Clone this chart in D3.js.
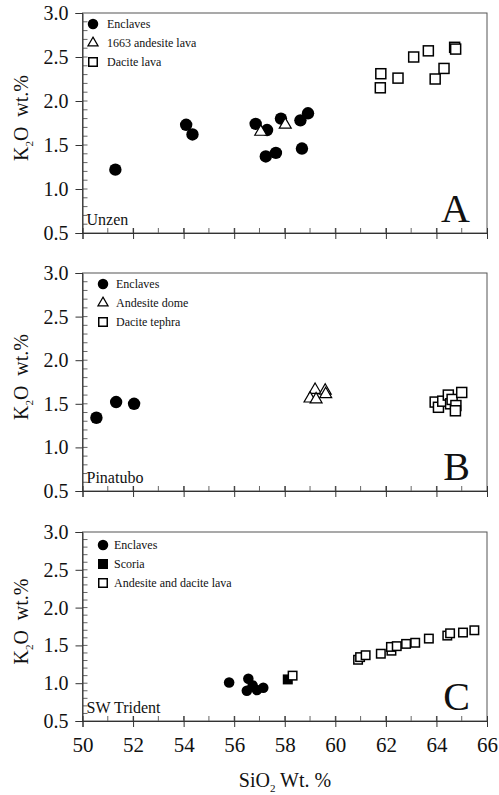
<!DOCTYPE html>
<html>
<head>
<meta charset="utf-8">
<script src="https://cdnjs.cloudflare.com/ajax/libs/d3/7.8.5/d3.min.js"></script>
<style>
  body { margin: 0; background: #fff; }
  svg, svg text { font-family: "Liberation Serif", "DejaVu Serif", serif !important; }
  text { fill: #111; }
</style>
</head>
<body>
<div class="canvas"></div>
<script>
const WIDTH = 499;
const HEIGHT = 795;
const FONT = '"Liberation Serif", "DejaVu Serif", serif';

// x ticks (SiO2) and y ticks (K2O), shared by all three panels
const xTicks = [50, 52, 54, 56, 58, 60, 62, 64, 66];
const yTicks = [0.5, 1.0, 1.5, 2.0, 2.5, 3.0];

// Panel A : Unzen  [SiO2, K2O]
const unzenEnclaves = [
    [51.3, 1.22], [54.1, 1.73], [54.35, 1.62], [56.85, 1.74], [57.3, 1.67],
    [57.25, 1.37], [57.65, 1.41], [57.85, 1.80], [58.62, 1.78], [58.92, 1.86],
    [58.68, 1.46]
];
const unzenAndesite = [[57.05, 1.65], [58.02, 1.73]];
const unzenDacite = [
    [61.8, 2.31], [61.78, 2.15], [62.48, 2.26], [63.1, 2.50], [63.68, 2.57],
    [63.95, 2.25], [64.3, 2.37], [64.72, 2.61], [64.76, 2.59]
];

// Panel B : Pinatubo
const pinatuboEnclaves = [[50.55, 1.34], [51.33, 1.52], [52.04, 1.50]];
const pinatuboAndesite = [[59.2, 1.66], [59.0, 1.56], [59.24, 1.55], [59.6, 1.65], [59.62, 1.61]];
const pinatuboDacite = [
    [63.95, 1.52], [64.08, 1.46], [64.25, 1.53], [64.47, 1.60], [64.56, 1.50],
    [64.62, 1.55], [64.77, 1.48], [64.75, 1.42], [65.0, 1.63]
];

// Panel C : SW Trident
const tridentEnclaves = [[55.8, 1.01], [56.56, 1.06], [56.5, 0.90], [56.73, 0.97], [56.9, 0.91], [57.15, 0.94]];
const tridentScoria = [[58.12, 1.05]];
const tridentLava = [
    [58.31, 1.10], [60.9, 1.31], [60.98, 1.345], [61.2, 1.37], [61.8, 1.39],
    [62.22, 1.43], [62.2, 1.48], [62.43, 1.49], [62.8, 1.52], [63.16, 1.535],
    [63.7, 1.59], [64.43, 1.63], [64.54, 1.66], [65.05, 1.67], [65.5, 1.70]
];

const panels = [
    {
        top: 13, bottom: 233, site: 'Unzen', letter: 'A', symSize: 1,
        legendX: 93, legendY: 24, textX: 107,
        series: [
            { name: 'Enclaves', type: 'circle', data: unzenEnclaves },
            { name: '1663 andesite lava', type: 'triangle', data: unzenAndesite },
            { name: 'Dacite lava', type: 'square', data: unzenDacite }
        ]
    },
    {
        top: 273, bottom: 491, site: 'Pinatubo', letter: 'B', symSize: 1,
        legendX: 103, legendY: 284, textX: 116,
        series: [
            { name: 'Enclaves', type: 'circle', data: pinatuboEnclaves },
            { name: 'Andesite dome', type: 'triangle', data: pinatuboAndesite },
            { name: 'Dacite tephra', type: 'square', data: pinatuboDacite }
        ]
    },
    {
        top: 532, bottom: 721, site: 'SW Trident', letter: 'C', symSize: 0.85,
        legendX: 103, legendY: 545, textX: 114,
        series: [
            { name: 'Enclaves', type: 'circle', data: tridentEnclaves },
            { name: 'Scoria', type: 'filledSquare', data: tridentScoria },
            { name: 'Andesite and dacite lava', type: 'square', data: tridentLava }
        ]
    }
];

const LEFT = 82.5;
const RIGHT = 487;

const svg = d3.select('.canvas')
    .append('svg')
    .attr('width', WIDTH)
    .attr('height', HEIGHT)
    .attr('font-family', FONT);

const x = d3.scaleLinear().domain([50, 66]).range([LEFT, RIGHT]);

const drawMarker = (g, type, cx, cy, k) => {
    if (type === 'circle') {
        g.append('circle')
            .attr('cx', cx).attr('cy', cy).attr('r', 6.2 * k)
            .attr('fill', '#000');
    } else if (type === 'triangle') {
        g.append('path')
            .attr('d', d3.symbol().type(d3.symbolTriangle).size(62 * k * k)())
            .attr('transform', `translate(${cx},${cy})`)
            .attr('fill', '#fff')
            .attr('stroke', '#000')
            .attr('stroke-width', 1.2);
    } else {
        const s = 10 * k;
        g.append('rect')
            .attr('x', cx - s / 2).attr('y', cy - s / 2)
            .attr('width', s).attr('height', s)
            .attr('fill', type === 'filledSquare' ? '#000' : '#fff')
            .attr('stroke', '#000')
            .attr('stroke-width', 1.5);
    }
}

panels.forEach((p, i) => {
    const y = d3.scaleLinear().domain([0.5, 3.0]).range([p.bottom, p.top]);
    const g = svg.append('g');
    const last = i === panels.length - 1;

    // frame
    g.append('rect')
        .attr('x', LEFT).attr('y', p.top)
        .attr('width', RIGHT - LEFT).attr('height', p.bottom - p.top)
        .attr('fill', 'none')
        .attr('stroke', '#555')
        .attr('stroke-width', 1);

    // minor ticks, pointing inside
    g.selectAll('.yminor')
        .data(d3.range(0.6, 3.0, 0.1))
        .enter().append('line')
        .attr('x1', LEFT).attr('x2', LEFT + 5)
        .attr('y1', d => y(d)).attr('y2', d => y(d))
        .attr('stroke', '#666');
    g.selectAll('.xminor')
        .data(d3.range(51, 66, 1))
        .enter().append('line')
        .attr('x1', d => x(d)).attr('x2', d => x(d))
        .attr('y1', p.bottom).attr('y2', p.bottom - 5)
        .attr('stroke', '#666');

    // y axis
    const yAxis = g.append('g')
        .attr('transform', `translate(${LEFT},0)`)
        .call(d3.axisLeft(y).tickValues(yTicks).tickFormat(d3.format('.1f')).tickSize(7).tickPadding(7));
    yAxis.attr('font-family', FONT).attr('font-size', 20);
    yAxis.select('.domain').attr('stroke', '#333');
    yAxis.selectAll('.tick line').attr('stroke', '#333');
    yAxis.selectAll('text').attr('fill', '#111');

    // x axis
    const xAxis = g.append('g')
        .attr('transform', `translate(0,${p.bottom})`)
        .call(d3.axisBottom(x).tickValues(xTicks).tickSize(6).tickPadding(10)
            .tickFormat(last ? d3.format('d') : ''));
    xAxis.attr('font-family', FONT).attr('font-size', 21);
    xAxis.select('.domain').attr('stroke', '#333');
    xAxis.selectAll('.tick line').attr('stroke', '#333').attr('y1', -5);
    xAxis.selectAll('text').attr('fill', '#111');

    // y title
    const yt = g.append('text')
        .attr('transform', `translate(28,${(p.top + p.bottom) / 2 - 5}) rotate(-90)`)
        .attr('text-anchor', 'middle')
        .attr('font-size', 20);
    yt.append('tspan').text('K');
    yt.append('tspan').text('2').attr('font-size', 11).attr('dy', 5);
    yt.append('tspan').text('O\u00a0\u00a0wt.%').attr('dy', -5);

    // data
    p.series.forEach(s => {
        s.data.forEach(d => drawMarker(g, s.type, x(d[0]), y(d[1]), p.symSize));
    });

    // legend
    p.series.forEach((s, j) => {
        const ly = p.legendY + j * 19;
        drawMarker(g, s.type, p.legendX, ly, 0.85);
        g.append('text')
            .attr('x', p.textX).attr('y', ly + 4)
            .attr('font-size', 12)
            .text(s.name);
    });

    // site name and panel letter
    g.append('text')
        .attr('x', LEFT + 4).attr('y', p.bottom - 8)
        .attr('font-size', 16)
        .text(p.site);
    g.append('text')
        .attr('x', 470).attr('y', p.bottom - 11)
        .attr('text-anchor', 'end')
        .attr('font-size', 40)
        .text(p.letter);
});

// x title
const xt = svg.append('text')
    .attr('x', 285).attr('y', 787)
    .attr('text-anchor', 'middle')
    .attr('font-size', 20);
xt.append('tspan').text('SiO');
xt.append('tspan').text('2').attr('font-size', 11).attr('dy', 5);
xt.append('tspan').text(' Wt. %').attr('dy', -5);
</script>
</body>
</html>
